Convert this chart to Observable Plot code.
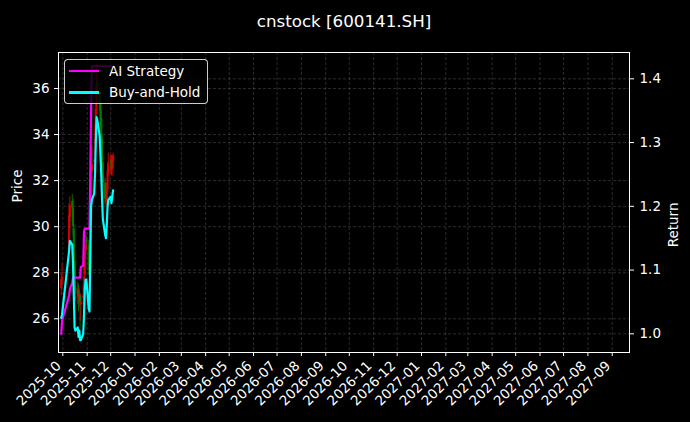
<!DOCTYPE html>
<html><head><meta charset="utf-8">
<script src="https://cdn.jsdelivr.net/npm/d3@7"></script>
<script src="https://cdn.jsdelivr.net/npm/@observablehq/plot@0.6"></script>
<style>
html,body{margin:0;padding:0;background:#000;}
#wrap{position:relative;width:690px;height:422px;overflow:hidden;}
#legend{position:absolute;left:64px;top:59px;width:144px;height:45px;box-sizing:border-box;border:1px solid rgba(255,255,255,0.8);border-radius:4px;background:rgba(0,0,0,0.8);font-family:"DejaVu Sans";font-size:13.5px;color:#fff;}
#legend .sw{position:absolute;left:4px;width:30px;height:2.5px;}
#legend .lb{position:absolute;left:44px;line-height:16px;}
</style></head>
<body><div id="wrap"></div>
<script>
const dates = ["2025-09-29","2025-09-30","2025-10-09","2025-10-10","2025-10-13","2025-10-14","2025-10-15","2025-10-16","2025-10-17",
 "2025-10-20","2025-10-21","2025-10-22","2025-10-23","2025-10-24","2025-10-27","2025-10-28","2025-10-29","2025-10-30","2025-10-31",
 "2025-11-03","2025-11-04","2025-11-05","2025-11-06","2025-11-07","2025-11-10","2025-11-11","2025-11-12","2025-11-13","2025-11-14",
 "2025-11-17","2025-11-18","2025-11-19","2025-11-20","2025-11-21","2025-11-24","2025-11-25","2025-11-26","2025-11-27","2025-11-28",
 "2025-12-01","2025-12-02","2025-12-03","2025-12-04"];
const open  = [27.3,27.7,29.0,30.4,31.1,30.8,29.9,28.5,27.3, 27.0,27.2,26.8,27.0,26.6,26.9,27.2,27.9,28.9,29.4, 29.2,28.0,28.0,30.3,32.4, 32.8,33.6,33.9,35.2,36.3, 35.9,35.4,34.7,33.8,32.8,31.9,31.3,31.1,31.6,32.4, 32.7,32.9,32.5,32.8];
const high  = [28.0,28.4,31.0,31.3,31.4,31.2,30.1,28.7,27.9, 27.6,27.5,27.3,27.1,27.0,27.5,28.2,29.2,29.6,29.6, 29.4,28.3,30.5,32.6,33.5, 33.4,34.4,36.2,37.1,36.9, 36.1,35.8,35.0,34.0,33.0,32.1,31.8,31.9,32.8,33.2, 33.1,33.1,33.0,33.2];
const low   = [27.0,27.4,28.8,29.9,30.2,29.6,28.4,27.0,26.8, 26.6,26.3,26.5,25.6,25.9,26.6,27.0,27.7,28.6,29.0, 27.9,27.6,27.9,30.1,32.0, 32.5,33.3,33.6,35.0,35.5, 35.0,34.3,33.5,32.5,31.7,31.0,30.9,30.9,31.5,32.2, 32.3,32.2,32.2,32.5];
const close = [27.7,27.8,30.5,30.9,30.8,30.0,28.6,27.3,27.1, 27.3,26.9,27.1,26.7,26.7,27.0,27.8,28.9,29.3,29.3, 28.1,27.9,30.2,32.4,32.7, 32.9,33.8,35.1,36.2,36.0, 35.4,34.6,33.8,32.7,31.9,31.2,31.1,31.6,32.4,32.7, 32.8,32.5,32.8,33.1];
const aiReturn = [1.000,1.020,1.060,1.070,1.080,1.088,1.088,1.088,1.088, 1.088,1.088,1.088,1.088,1.105,1.107,1.160,1.165,1.165,1.165, 1.165,1.165,1.250,1.350,1.420, 1.420,1.420,1.420,1.420,1.420, 1.420,1.420,1.420,1.420,1.420,1.420,1.420,1.420,1.420,1.420, 1.420,1.420,1.420,1.420];
const bhReturn = [1.025,1.030,1.130,1.146,1.140,1.110,1.060,1.010,1.005, 1.010,0.995,1.005,0.990,0.990,1.000,1.030,1.070,1.085,1.085, 1.040,1.035,1.120,1.200,1.210, 1.220,1.250,1.300,1.340,1.335, 1.310,1.280,1.250,1.210,1.180,1.155,1.150,1.170,1.200,1.210, 1.215,1.205,1.215,1.225];
const monthLabels = ["2025-10","2025-11","2025-12","2026-01","2026-02","2026-03","2026-04","2026-05","2026-06","2026-07","2026-08","2026-09",
 "2026-10","2026-11","2026-12","2027-01","2027-02","2027-03","2027-04","2027-05","2027-06","2027-07","2027-08","2027-09"];
const priceTicks = [26,28,30,32,34,36];
const returnTicks = [1.0,1.1,1.2,1.3,1.4];
const seriesNames = ["AI Strategy","Buy-and-Hold"];
const seriesColors = ["#ff00ff","#00ffff"];

const pLo = 24.537, pHi = 37.563, rLo = 0.9707, rHi = 1.4413;
const toP = r => pLo + (r - rLo) * (pHi - pLo) / (rHi - rLo);
const fromP = p => rLo + (p - pLo) * (rHi - rLo) / (pHi - pLo);

const rows = dates.map((d, i) => ({
  date: new Date(d + "T00:00Z"), open: open[i], high: high[i], low: low[i], close: close[i],
  ai: toP(aiReturn[i]), bh: toP(bhReturn[i]), up: close[i] >= open[i]
}));
const monthDates = monthLabels.map(s => new Date(s + "-01T00:00Z"));
const fmt = d3.utcFormat("%Y-%m");
const candleColor = d => d.up ? "#e00000" : "#008000";
const gridStyle = {stroke: "#888", strokeOpacity: 0.45, strokeDasharray: "3,2", strokeWidth: 0.7};

const chart = Plot.plot({
  width: 690, height: 422,
  marginLeft: 58, marginRight: 61, marginTop: 52, marginBottom: 70,
  style: {background: "#000", color: "#fff", fontFamily: "DejaVu Sans", fontSize: "13.5px"},
  x: {type: "utc", domain: [new Date("2025-09-25T12:00Z"), new Date("2027-09-23T00:00Z")]},
  y: {domain: [pLo, pHi]},
  marks: [
    Plot.gridX(monthDates, gridStyle),
    Plot.gridY(priceTicks, gridStyle),
    Plot.gridY(returnTicks.map(toP), gridStyle),
    Plot.ruleX(rows, {x: "date", y1: "low", y2: "high", stroke: candleColor, strokeWidth: 1, strokeOpacity: 0.85}),
    Plot.ruleX(rows, {x: "date", y1: "open", y2: "close", stroke: candleColor, strokeWidth: 2.2, strokeOpacity: 0.85}),
    Plot.line(rows, {x: "date", y: "ai", stroke: seriesColors[0], strokeWidth: 2.2}),
    Plot.line(rows, {x: "date", y: "bh", stroke: seriesColors[1], strokeWidth: 2.2}),
    Plot.frame({stroke: "#fff", strokeWidth: 1}),
    Plot.axisX(monthDates, {anchor: "bottom", tickFormat: () => "", tickSize: 4, label: null}),
    Plot.axisX(monthDates, {anchor: "bottom", tickFormat: fmt, tickRotate: -45, tickSize: 0, tickPadding: 7, dx: -4, dy: 4, label: null}),
    Plot.axisY(priceTicks, {anchor: "left", tickSize: 4, tickPadding: 5, label: null}),
    Plot.axisY(returnTicks.map(toP), {anchor: "right", tickFormat: d => fromP(d).toFixed(1), tickSize: 4, tickPadding: 6, label: null}),
    Plot.text(["Price"], {text: d => d, frameAnchor: "left", dx: -41, rotate: -90, fill: "#fff", fontSize: 13.5}),
    Plot.text(["Return"], {text: d => d, frameAnchor: "right", dx: 44, rotate: -90, fill: "#fff", fontSize: 13.5}),
    Plot.text(["cnstock [600141.SH]"], {text: d => d, frameAnchor: "top", dy: -37, fill: "#fff", fontSize: 16.7})
  ]
});
const wrap = document.getElementById("wrap");
wrap.appendChild(chart);

const leg = document.createElement("div");
leg.id = "legend";
seriesNames.forEach((name, i) => {
  const sw = document.createElement("div");
  sw.className = "sw";
  sw.style.top = (9.5 + i * 21.5) + "px";
  sw.style.background = seriesColors[i];
  const lb = document.createElement("div");
  lb.className = "lb";
  lb.style.top = (2.5 + i * 21.5) + "px";
  lb.textContent = name;
  leg.appendChild(sw); leg.appendChild(lb);
});
wrap.appendChild(leg);
</script>
</body></html>
